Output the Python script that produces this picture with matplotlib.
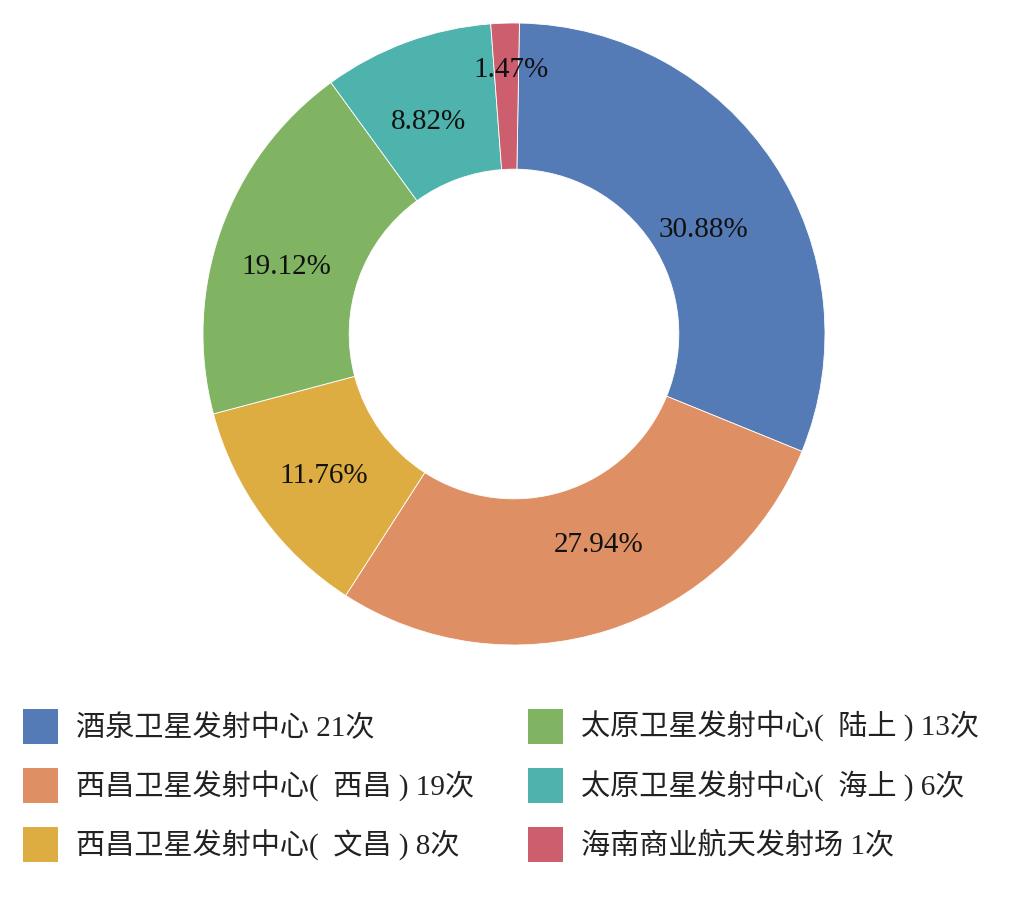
import numpy as np
import matplotlib
matplotlib.use('Agg')
import matplotlib.pyplot as plt
from matplotlib.patches import Patch

# dados
sites = ['酒泉卫星发射中心 21次', '西昌卫星发射中心(  西昌 ) 19次', '西昌卫星发射中心(  文昌 ) 8次',
         '太原卫星发射中心(  陆上 ) 13次', '太原卫星发射中心(  海上 ) 6次', '海南商业航天发射场 1次']
counts = [21, 19, 8, 13, 6, 1]
colors = ['#557BB6', '#DE8F64', '#DDAD42', '#80B463', '#4DB3AC', '#CD5E6E']

# posicao dos rotulos de percentagem (raio relativo, desvio angular em graus, horario)
pct_r = [0.694, 0.731, 0.763, 0.762, 0.735, 0.849]
pct_shift = [4.6, -4.4, -0.6, -3.2, -1.7, 1.0]

fam = ['Liberation Serif', 'Noto Sans CJK SC']

fig = plt.figure(figsize=(10.17, 9.07), dpi=100)

# centro do anel ~ (514, 334) px, raio ~311 px
cx, cy, r = 514 / 1017, 1 - 334 / 907, 311
ax = fig.add_axes([cx - r / 1017, cy - r / 907, 2 * r / 1017, 2 * r / 907])

wedges, texts, autotexts = ax.pie(counts, colors=colors, startangle=89, counterclock=False,
                                  radius=1, autopct='%.2f%%', pctdistance=0.74,
                                  wedgeprops=dict(width=0.47, edgecolor='white', linewidth=0.6),
                                  textprops=dict(fontsize=21, family=fam, color='#111111'))
for w, t, rr, d in zip(wedges, autotexts, pct_r, pct_shift):
    phi = np.deg2rad((w.theta1 + w.theta2) / 2 - d)
    t.set_position((rr * np.cos(phi), rr * np.sin(phi)))

ax.set_xlim(-1, 1)
ax.set_ylim(-1, 1)
ax.set_aspect('equal')
ax.axis('off')

handles = [Patch(facecolor=c, edgecolor='none') for c in colors]
fs = 21
kw = dict(frameon=False, prop=dict(family=fam, size=fs, weight='light'), handlelength=1.2,
          handleheight=1.47, handletextpad=0.62, labelspacing=0.824, borderpad=0, borderaxespad=0)
leg1 = fig.legend(handles[:3], sites[:3], loc='upper left', bbox_to_anchor=(23 / 1017, 1 - 709 / 907), **kw)
leg2 = fig.legend(handles[3:], sites[3:], loc='upper left', bbox_to_anchor=(528 / 1017, 1 - 709 / 907), **kw)
for leg in (leg1, leg2):
    for t in leg.get_texts():
        t.set_color('#222222')

fig.savefig('out.png', dpi=100, facecolor='white')
